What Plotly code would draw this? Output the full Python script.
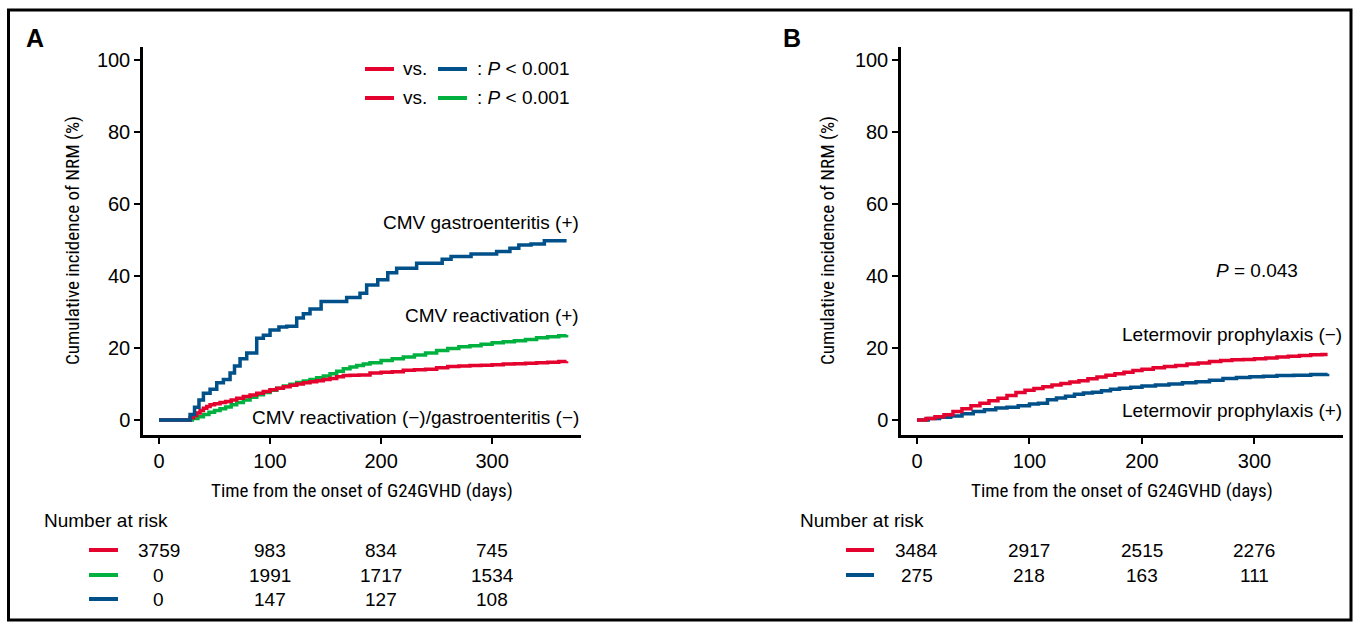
import plotly.graph_objects as go

W, H = 1353, 623

# ---------------- data ----------------
x_ticks = [0, 100, 200, 300]
y_ticks = [0, 20, 40, 60, 80, 100]

# Panel A
a_neg_days = [0, 25, 28, 31, 34, 37, 40, 43, 46, 50, 55, 60, 65, 70, 76, 82, 88, 94, 100, 106, 112, 118, 124, 130, 136, 142, 148, 154, 160, 166, 172, 180, 190, 200, 210, 220, 230, 240, 250, 260, 270, 280, 290, 300, 310, 320, 330, 340, 350, 360, 367]
a_neg_vals = [0, 0, 0.6, 1.2, 1.9, 2.6, 3.2, 3.7, 4.2, 4.5, 4.8, 5.1, 5.5, 6.0, 6.5, 6.9, 7.4, 7.9, 8.4, 8.8, 9.2, 9.6, 10.0, 10.3, 10.6, 10.9, 11.2, 11.5, 12.0, 12.3, 12.4, 12.5, 13.0, 13.2, 13.4, 13.8, 13.9, 14.1, 14.5, 14.8, 15.0, 15.1, 15.2, 15.3, 15.5, 15.6, 15.7, 15.9, 16.0, 16.2, 16.3]

a_react_days = [0, 25, 30, 35, 40, 45, 50, 55, 60, 65, 70, 76, 82, 88, 94, 100, 106, 112, 118, 124, 130, 136, 142, 148, 154, 160, 166, 172, 178, 184, 190, 200, 210, 220, 230, 240, 250, 260, 270, 280, 290, 300, 310, 320, 330, 340, 350, 360, 367]
a_react_vals = [0, 0, 0.4, 0.9, 1.5, 2.1, 2.6, 3.1, 3.6, 4.2, 4.8, 5.5, 6.3, 7.0, 7.6, 8.2, 8.8, 9.4, 9.9, 10.4, 10.8, 11.2, 11.7, 12.2, 12.8, 13.5, 14.2, 14.7, 15.1, 15.5, 15.9, 16.5, 17.0, 17.5, 18.0, 18.6, 19.3, 19.8, 20.3, 20.6, 21.0, 21.4, 21.7, 22.0, 22.3, 22.8, 23.1, 23.4, 23.6]

a_gastro_days = [0, 25, 28, 32, 36, 40, 46, 52, 58, 64, 68, 73, 79, 88, 94, 100, 108, 115, 124, 130, 136, 146, 167, 169, 181, 187, 197, 206, 214, 232, 255, 263, 281, 304, 316, 324, 335, 347, 367]
a_gastro_vals = [0, 0, 1.5, 3.5, 5.5, 7.4, 8.5, 10.3, 11.2, 13.0, 15.0, 17.0, 18.6, 22.7, 23.5, 25.0, 25.8, 26.0, 28.3, 29.5, 30.8, 32.9, 32.9, 34.0, 35.2, 37.5, 38.9, 40.9, 42.1, 43.5, 44.6, 45.4, 46.1, 46.8, 47.7, 48.6, 48.9, 49.8, 49.8]

a_risk_neg = [3759, 983, 834, 745]
a_risk_react = [0, 1991, 1717, 1534]
a_risk_gastro = [0, 147, 127, 108]

# Panel B
b_neg_days = [0, 8, 16, 24, 32, 40, 48, 56, 64, 72, 80, 88, 96, 104, 112, 120, 128, 136, 144, 152, 160, 168, 176, 184, 192, 200, 210, 220, 230, 240, 250, 260, 270, 280, 290, 300, 310, 320, 330, 340, 350, 360, 365]
b_neg_vals = [0, 0.4, 0.9, 1.4, 2.3, 3.1, 3.9, 4.6, 5.3, 6.0, 6.8, 7.6, 8.2, 8.7, 9.2, 9.7, 10.1, 10.5, 10.9, 11.4, 11.9, 12.4, 12.8, 13.2, 13.7, 14.1, 14.5, 14.8, 15.1, 15.5, 15.8, 16.2, 16.5, 16.7, 16.8, 17.0, 17.2, 17.5, 17.7, 17.9, 18.1, 18.2, 18.2]

b_pos_days = [0, 10, 20, 30, 40, 50, 60, 70, 80, 90, 100, 108, 116, 124, 132, 140, 148, 156, 164, 172, 180, 190, 200, 212, 224, 236, 248, 260, 272, 284, 296, 308, 320, 335, 350, 365]
b_pos_vals = [0, 0.4, 0.7, 1.1, 1.7, 2.3, 2.8, 3.3, 3.5, 3.9, 4.4, 4.6, 5.6, 6.1, 6.6, 7.1, 7.5, 7.7, 8.1, 8.5, 8.8, 9.1, 9.4, 9.7, 10.0, 10.3, 10.6, 11.0, 11.5, 11.8, 12.0, 12.1, 12.3, 12.4, 12.6, 12.8]

b_risk_neg = [3484, 2917, 2515, 2276]
b_risk_pos = [275, 218, 163, 111]

# ---------------- style ----------------
RED = "#E4032E"
BLUE = "#00508A"
GREEN = "#00B140"
FONT = "Liberation Sans, Arial, sans-serif"
NARROW = "Liberation Sans Narrow, Arial Narrow, Roboto Condensed, sans-serif"


def px(x):
    return x / W


def py(y):
    return 1 - y / H


fig = go.Figure()


def curve(days, vals, color, xa, ya):
    fig.add_trace(go.Scatter(x=days, y=vals, mode="lines", line=dict(color=color, width=3.5, shape="hv"),
                             xaxis=xa, yaxis=ya, showlegend=False, hoverinfo="skip"))


curve(a_react_days, a_react_vals, GREEN, "x", "y")
curve(a_neg_days, a_neg_vals, RED, "x", "y")
curve(a_gastro_days, a_gastro_vals, BLUE, "x", "y")
curve(b_pos_days, b_pos_vals, BLUE, "x2", "y2")
curve(b_neg_days, b_neg_vals, RED, "x2", "y2")

axis_common = dict(showline=True, linecolor="black", linewidth=2.5, ticks="outside", ticklen=6,
                   tickwidth=2, tickcolor="black", showgrid=False, zeroline=False,
                   tickfont=dict(family=FONT, size=20, color="black"), fixedrange=True)

fig.update_layout(
    width=W, height=H, margin=dict(l=0, r=0, t=0, b=0),
    paper_bgcolor="white", plot_bgcolor="white",
    xaxis=dict(domain=[px(143), px(581)], range=[-14.4, 380], tickvals=x_ticks, anchor="y", **axis_common),
    yaxis=dict(domain=[py(435), py(47)], range=[-4.2, 103.6], tickvals=y_ticks, anchor="x", **axis_common),
    xaxis2=dict(domain=[px(901), px(1343)], range=[-14.2, 378.7], tickvals=x_ticks, anchor="y2", **axis_common),
    yaxis2=dict(domain=[py(435), py(47)], range=[-4.2, 103.6], tickvals=y_ticks, anchor="x2", **axis_common),
)

ann = []
shapes = []


def text(x, y, s, size=19, xanchor="center", family=FONT, angle=0, xref="paper", yref="paper"):
    ann.append(dict(x=x, y=y, xref=xref, yref=yref, text=s, showarrow=False, xanchor=xanchor,
                    yanchor="middle", textangle=angle, font=dict(family=family, size=size, color="black")))


def hline(x0, x1, y, color, width=4):
    shapes.append(dict(type="line", xref="paper", yref="paper", x0=px(x0), x1=px(x1), y0=py(y), y1=py(y),
                       line=dict(color=color, width=width)))


# frame
shapes.append(dict(type="rect", xref="paper", yref="paper", x0=px(8.5), x1=px(1351), y0=py(620), y1=py(10),
                   line=dict(color="black", width=3)))

# panel letters
text(px(35), py(38), "<b>A</b>", size=25)
text(px(792), py(38), "<b>B</b>", size=25)

# axis titles
text(px(72), py(241), "Cumulative incidence of NRM (%)", size=19, family=NARROW, angle=-90)
text(px(827), py(241), "Cumulative incidence of NRM (%)", size=19, family=NARROW, angle=-90)
text(px(362), py(490), "Time from the onset of G24GVHD (days)", size=19, family=NARROW)
text(px(1122), py(490), "Time from the onset of G24GVHD (days)", size=19, family=NARROW)

# panel A legend
hline(365, 394, 69, RED)
text(px(401), py(69), "vs.", xanchor="left")
hline(438, 467, 69, BLUE)
text(px(475), py(69), ": <i>P</i> &lt; 0.001", xanchor="left")
hline(365, 394, 98, RED)
text(px(401), py(98), "vs.", xanchor="left")
hline(438, 467, 98, GREEN)
text(px(475), py(98), ": <i>P</i> &lt; 0.001", xanchor="left")

# panel A curve labels
text(px(581), py(222), "CMV gastroenteritis (+)", xanchor="right")
text(px(581), py(315), "CMV reactivation (+)", xanchor="right")
text(px(581), py(417), "CMV reactivation (\u2212)/gastroenteritis (\u2212)", xanchor="right")

# panel B labels
text(px(1257), py(270), "<i>P</i> = 0.043")
text(px(1344), py(334), "Letermovir prophylaxis (\u2212)", xanchor="right")
text(px(1344), py(410), "Letermovir prophylaxis (+)", xanchor="right")

# number at risk A
text(px(42), py(520), "Number at risk", xanchor="left")
for row, (vals, color) in enumerate([(a_risk_neg, RED), (a_risk_react, GREEN), (a_risk_gastro, BLUE)]):
    yy = [550, 575, 599][row]
    hline(89, 118, yy, color)
    for xv, v in zip(x_ticks, vals):
        text(xv, py(yy), str(v), xref="x")

# number at risk B
text(px(798), py(520), "Number at risk", xanchor="left")
for row, (vals, color) in enumerate([(b_risk_neg, RED), (b_risk_pos, BLUE)]):
    yy = [550, 575][row]
    hline(846, 874, yy, color)
    for xv, v in zip(x_ticks, vals):
        text(xv, py(yy), str(v), xref="x2")

fig.update_layout(annotations=ann, shapes=shapes)
fig.write_html("out.html", config={"displayModeBar": False},
               post_script="document.body.style.margin='0';document.body.style.overflow='hidden';")
